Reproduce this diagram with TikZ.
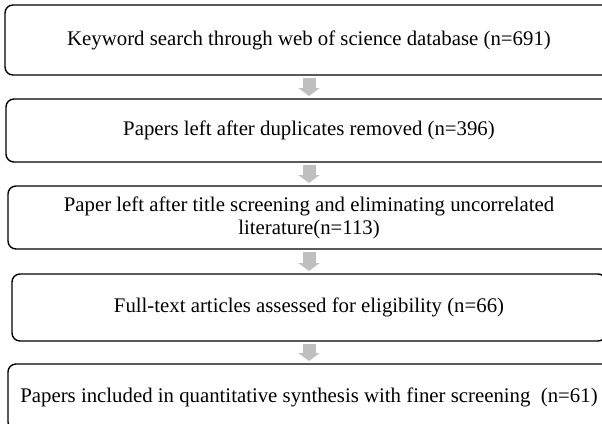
\documentclass[tikz,border=0pt]{standalone}
\usepackage{fontspec}
\setmainfont{Liberation Serif}
\usetikzlibrary{positioning,arrows.meta}

\tikzset{
  stage/.style={draw, line width=1.4pt, rounded corners=8pt, align=center,
    inner sep=0pt, outer sep=0pt, font=\fontsize{20.8}{23}\selectfont},
  flow/.style={draw=black!25, line width=13pt, -{Triangle[width=21pt,length=8pt]},
    shorten <=3pt, shorten >=3pt},
}

\begin{document}
\begin{tikzpicture}[x=1pt,y=1pt,node distance=24pt]
\useasboundingbox (0,0) rectangle (602,-423);

\node[stage, minimum width=608pt, minimum height=70pt] (search) at (309,-40)
  {Keyword search through web of science database (n=691)};
\node[stage, minimum width=606pt, minimum height=63pt, below=of search] (dupl)
  {Papers left after duplicates removed (n=396)};
\node[stage, minimum width=602pt, minimum height=63pt, below=of dupl] (title)
  {Paper left after title screening and eliminating uncorrelated\\ literature(n=113)};
\node[stage, minimum width=594pt, minimum height=67pt, below=25pt of title] (full)
  {Full-text articles assessed for eligibility (n=66)};
\node[stage, minimum width=602pt, minimum height=66pt, below=23pt of full] (incl)
  {Papers included in quantitative synthesis with finer screening~ (n=61)};

\draw[flow] (search) -- (dupl);
\draw[flow] (dupl) -- (title);
\draw[flow] (title) -- (full);
\draw[flow] (full) -- (incl);
\end{tikzpicture}
\end{document}
